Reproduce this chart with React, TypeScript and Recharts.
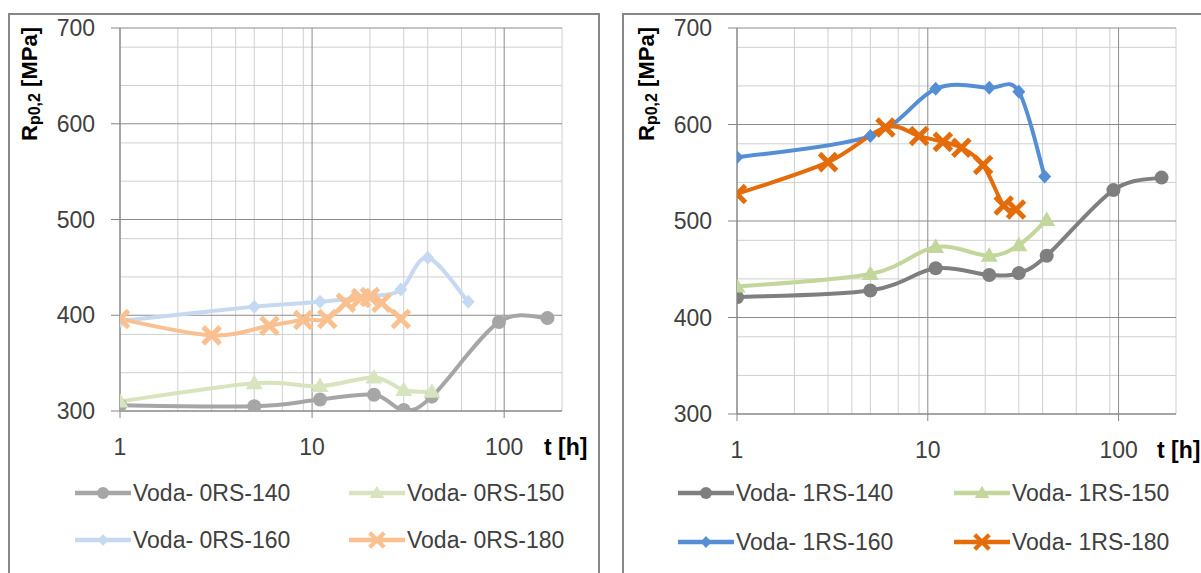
import React from 'react';
import { LineChart, Line, XAxis, YAxis, CartesianGrid, Legend } from 'recharts';

// t [h] / Rp0,2 [MPa]
const T_0RS_140 = [1, 5, 11, 21, 30, 42, 94, 168];
const V_0RS_140 = [306, 305, 312, 317, 301, 315, 393, 397];
const T_0RS_150 = [1, 5, 11, 21, 30, 42];
const V_0RS_150 = [310, 329, 326, 335, 322, 320];
const T_0RS_160 = [1, 5, 11, 21, 29, 40, 65];
const V_0RS_160 = [394, 409, 414, 420, 427, 460, 414];
const T_0RS_180 = [1, 3, 6, 9, 12, 15, 18, 20, 23, 29];
const V_0RS_180 = [396, 379, 389, 395, 396, 413, 418, 419, 413, 396];

const T_1RS_140 = [1, 5, 11, 21, 30, 42, 94, 168];
const V_1RS_140 = [421, 428, 451, 444, 446, 464, 532, 545];
const T_1RS_150 = [1, 5, 11, 21, 30, 42];
const V_1RS_150 = [432, 445, 473, 464, 475, 501];
const T_1RS_160 = [1, 5, 11, 21, 30, 41];
const V_1RS_160 = [566, 588, 637, 638, 634, 546];
const T_1RS_180 = [1, 3, 6, 9, 12, 15, 19.5, 25, 29];
const V_1RS_180 = [528, 561, 597, 588, 582, 576, 558, 516, 512];

const X_TICKS = [1, 10, 100];
const X_MINOR = [2, 3, 4, 5, 6, 7, 8, 9, 20, 30, 40, 50, 60, 70, 80, 90, 200];
const Y_TICKS = [300, 400, 500, 600, 700];
const Y_MINOR = [320, 340, 360, 380, 420, 440, 460, 480, 520, 540, 560, 580, 620, 640, 660, 680];

const FONT = '"Liberation Sans", Arial, sans-serif';
const AXIS = '#868686';

const zip = (t: number[], v: number[]) => t.map((x, i) => ({ t: x, v: v[i] }));

// Excel-like smoothed line (Catmull-Rom style bezier)
const excelSmooth = (context: any) => {
  let pts: number[][] = [];
  return {
    areaStart() {},
    areaEnd() {},
    lineStart() {
      pts = [];
    },
    point(x: number, y: number) {
      pts.push([+x, +y]);
    },
    lineEnd() {
      const n = pts.length;
      if (!n) return;
      context.moveTo(pts[0][0], pts[0][1]);
      for (let i = 0; i < n - 1; i++) {
        const p0 = pts[Math.max(i - 1, 0)];
        const p1 = pts[i];
        const p2 = pts[i + 1];
        const p3 = pts[Math.min(i + 2, n - 1)];
        context.bezierCurveTo(
          p1[0] + (p2[0] - p0[0]) / 6,
          p1[1] + (p2[1] - p0[1]) / 6,
          p2[0] - (p3[0] - p1[0]) / 6,
          p2[1] - (p3[1] - p1[1]) / 6,
          p2[0],
          p2[1]
        );
      }
    },
  };
};

type Shape = 'circle' | 'triangle' | 'diamond' | 'cross';

function Marker({ shape, cx, cy, color, s = 1 }: { shape: Shape; cx: number; cy: number; color: string; s?: number }) {
  if (shape === 'circle') return <circle cx={cx} cy={cy} r={7 * s} fill={color} />;
  if (shape === 'triangle')
    return (
      <polygon
        points={`${cx},${cy - 8.5 * s} ${cx - 8.5 * s},${cy + 6 * s} ${cx + 8.5 * s},${cy + 6 * s}`}
        fill={color}
      />
    );
  if (shape === 'diamond')
    return (
      <polygon
        points={`${cx},${cy - 7 * s} ${cx + 6.5 * s},${cy} ${cx},${cy + 7 * s} ${cx - 6.5 * s},${cy}`}
        fill={color}
      />
    );
  const d = 8.5 * s;
  return (
    <g stroke={color} strokeWidth={5 * s}>
      <line x1={cx - d} y1={cy - d} x2={cx + d} y2={cy + d} />
      <line x1={cx - d} y1={cy + d} x2={cx + d} y2={cy - d} />
    </g>
  );
}

interface Series {
  name: string;
  data: { t: number; v: number }[];
  color: string;
  shape: Shape;
}

const LEFT: Series[] = [
  { name: 'Voda- 0RS-140', data: zip(T_0RS_140, V_0RS_140), color: '#A6A6A6', shape: 'circle' },
  { name: 'Voda- 0RS-150', data: zip(T_0RS_150, V_0RS_150), color: '#D7E4BD', shape: 'triangle' },
  { name: 'Voda- 0RS-160', data: zip(T_0RS_160, V_0RS_160), color: '#C6D9F1', shape: 'diamond' },
  { name: 'Voda- 0RS-180', data: zip(T_0RS_180, V_0RS_180), color: '#FAC08F', shape: 'cross' },
];

const RIGHT: Series[] = [
  { name: 'Voda- 1RS-140', data: zip(T_1RS_140, V_1RS_140), color: '#7F7F7F', shape: 'circle' },
  { name: 'Voda- 1RS-150', data: zip(T_1RS_150, V_1RS_150), color: '#C3D69B', shape: 'triangle' },
  { name: 'Voda- 1RS-160', data: zip(T_1RS_160, V_1RS_160), color: '#558ED5', shape: 'diamond' },
  { name: 'Voda- 1RS-180', data: zip(T_1RS_180, V_1RS_180), color: '#E46C0A', shape: 'cross' },
];

interface PanelProps {
  series: Series[];
  left: number;
  width: number;
  margin: { top: number; right: number; bottom: number; left: number };
  yTitle: { x: number; y: number };
  xTitle: { x: number; y: number };
  legendCols: number[];
  legendRows: number[];
}

function Panel({ series, left, width, margin, yTitle, xTitle, legendCols, legendRows }: PanelProps) {
  const shapes: Record<string, Shape> = {};
  series.forEach((s) => (shapes[s.name] = s.shape));
  const legendTop = 460;

  return (
    <div style={{ position: 'absolute', left, top: 0 }}>
      <LineChart width={width} height={573} margin={margin}>
        <CartesianGrid stroke="#CFCFCF" horizontalValues={Y_MINOR} verticalValues={X_MINOR} />
        <CartesianGrid stroke="#8C8C8C" horizontalValues={Y_TICKS} verticalValues={X_TICKS} />
        <XAxis
          dataKey="t"
          type="number"
          scale="log"
          domain={[1, 200]}
          ticks={X_TICKS}
          allowDataOverflow
          height={30}
          tickSize={7}
          tickMargin={21}
          stroke={AXIS}
          tick={{ fill: '#404040', fontSize: 23, fontFamily: FONT }}
          label={{
            content: () => (
              <text x={xTitle.x} y={xTitle.y} fontFamily={FONT} fontSize={23} fontWeight="bold" fill="#000">
                t [h]
              </text>
            ),
          }}
        />
        <YAxis
          type="number"
          domain={[300, 700]}
          ticks={Y_TICKS}
          allowDataOverflow
          width={60}
          tickSize={9}
          tickMargin={16}
          stroke={AXIS}
          tick={{ fill: '#404040', fontSize: 23, fontFamily: FONT }}
          label={{
            content: () => (
              <text
                x={yTitle.x}
                y={yTitle.y}
                transform={`rotate(-90, ${yTitle.x}, ${yTitle.y})`}
                textAnchor="middle"
                dominantBaseline="central"
                fontFamily={FONT}
                fontSize={22}
                fontWeight="bold"
                fill="#000"
              >
                <tspan>R</tspan>
                <tspan fontSize={16} dy={5}>
                  p0,2
                </tspan>
                <tspan dy={-5}> [MPa]</tspan>
              </text>
            ),
          }}
        />
        {series.map((s) => (
          <Line
            key={s.name}
            name={s.name}
            data={s.data}
            dataKey="v"
            type={excelSmooth as any}
            stroke={s.color}
            strokeWidth={4}
            isAnimationActive={false}
            activeDot={false}
            dot={(p: any) => (
              <Marker key={`${s.name}-${p.index}`} shape={s.shape} cx={p.cx} cy={p.cy} color={s.color} />
            )}
          />
        ))}
        <Legend
          layout="vertical"
          align="center"
          verticalAlign="middle"
          wrapperStyle={{ left: 0, top: legendTop, width, height: 110 }}
          content={(props: any) => (
            <div style={{ position: 'relative', width, height: 110 }}>
              {(props.payload || []).map((e: any, i: number) => {
                const lx = legendCols[i % 2];
                const cy = legendRows[Math.floor(i / 2)] - legendTop;
                return (
                  <div
                    key={e.value}
                    style={{ position: 'absolute', left: lx, top: cy - 14, height: 28, display: 'flex', alignItems: 'center' }}
                  >
                    <svg width={56} height={28}>
                      <line x1={0} y1={14} x2={56} y2={14} stroke={e.color} strokeWidth={4.5} />
                      <Marker shape={shapes[e.value]} cx={28} cy={14} color={e.color} s={0.85} />
                    </svg>
                    <span
                      style={{ marginLeft: 2, fontFamily: FONT, fontSize: 23, color: '#404040', whiteSpace: 'nowrap' }}
                    >
                      {e.value}
                    </span>
                  </div>
                );
              })}
            </div>
          )}
        />
      </LineChart>
    </div>
  );
}

export default function App() {
  return (
    <div
      style={{
        position: 'absolute',
        left: 0,
        top: 0,
        width: 1201,
        height: 573,
        overflow: 'hidden',
        background: '#fff',
        fontFamily: FONT,
      }}
    >
      <div style={{ position: 'absolute', left: 8, top: 13, width: 588, height: 620, border: '2px solid #878787' }} />
      <div style={{ position: 'absolute', left: 622, top: 13, width: 700, height: 620, border: '2px solid #878787' }} />
      <Panel
        series={LEFT}
        left={0}
        width={600}
        margin={{ top: 28, right: 38, bottom: 132, left: 60 }}
        yTitle={{ x: 29, y: 84 }}
        xTitle={{ x: 544, y: 455 }}
        legendCols={[75, 349]}
        legendRows={[493, 540]}
      />
      <Panel
        series={RIGHT}
        left={600}
        width={601}
        margin={{ top: 28, right: 25, bottom: 129, left: 77 }}
        yTitle={{ x: 46, y: 84 }}
        xTitle={{ x: 557, y: 458 }}
        legendCols={[78, 354]}
        legendRows={[493, 542]}
      />
    </div>
  );
}
